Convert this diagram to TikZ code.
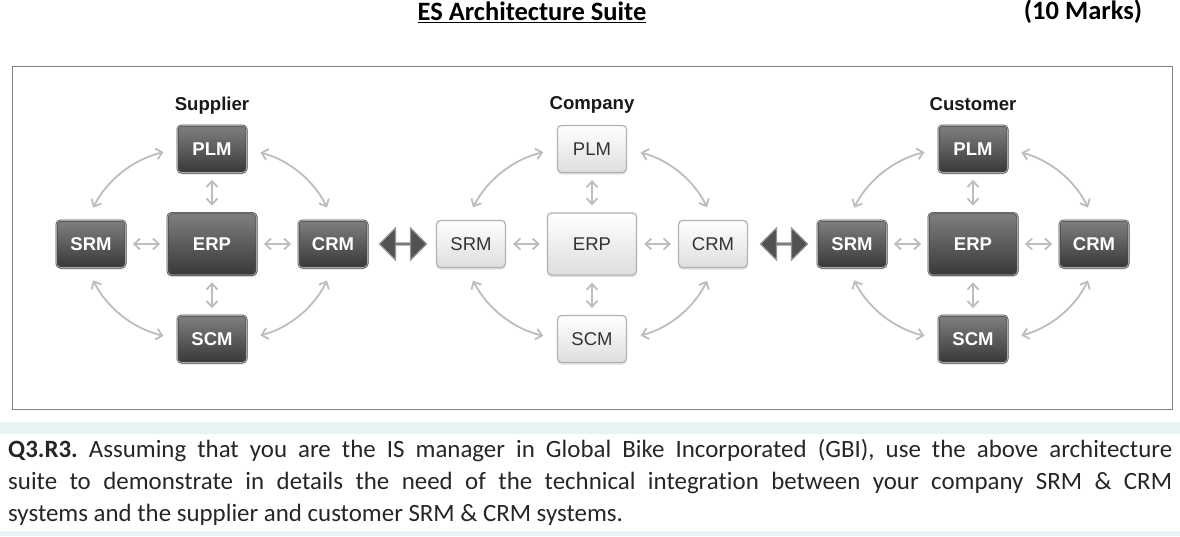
\documentclass[tikz,border=0pt]{standalone}
\usepackage{fontspec}
\setmainfont[Ligatures=NoCommon]{Carlito}
\newfontfamily\diagfont{Liberation Sans}
\usetikzlibrary{arrows.meta}
\usetikzlibrary{positioning}
\usetikzlibrary{shadows}
\usetikzlibrary{shapes.arrows}
\definecolor{bandcol}{HTML}{E7F3F4}
\definecolor{linkcol}{HTML}{BDBDBD}
\tikzset{
    link/.style = {linkcol,line width=1.8pt,{Straight Barb[length=6pt,width=11pt]}-{Straight Barb[length=6pt,width=11pt]}},
    curvelink/.style = {link,shorten <=14pt,shorten >=14pt},
    shortlink/.style = {link,shorten <=7pt,shorten >=7pt},
    box/.style = {rounded corners=4pt,minimum width=69pt,minimum height=47pt,
        drop shadow={shadow xshift=0pt,shadow yshift=-2pt,opacity=0.25}},
    darkbox/.style = {box,draw=black!72,double=black!35,double distance=0.8pt,line width=0.6pt,
        top color=black!50,bottom color=black!78,text=white},
    lightbox/.style = {box,draw=black!30,line width=1.2pt,top color=white,bottom color=black!13,text=black!80},
    swaparrow/.style = {double arrow,draw=black!42,fill=black!68,line width=1.2pt,inner sep=0pt,
        minimum width=32pt,minimum height=47pt,double arrow head extend=10pt},
    grouptitle/.style = {font=\diagfont\bfseries\fontsize{18.6}{22}\selectfont,text=black!90,text height=14pt,text depth=4pt,inner sep=0pt},
    band/.style = {fill=bandcol,draw=none}
}
\begin{document}
\begin{tikzpicture}[x=1pt,y=-1pt]
        \newcommand*\hsep{121}
        \newcommand*\vsep{95}
        \useasboundingbox (0,0) rectangle (1180,536);
        % Heading
        \node[font=\bfseries\fontsize{26.5}{30}\selectfont] (heading) at (532,12) {\underline{ES Architecture Suite}};
        \node[font=\bfseries\fontsize{26.5}{30}\selectfont] (marks) at (1083,12) {(10 Marks)};
        % Frame
        \draw[black!50,line width=0.8pt] (12,66) rectangle (1172,409);
        % Suites
        \foreach \g/\cx/\boxstyle/\wgt/\name in {
            s/212/darkbox/\bfseries/Supplier,
            c/592/lightbox/\mdseries/Company,
            k/973/darkbox/\bfseries/Customer}{
            \node[\boxstyle,font=\diagfont\wgt\fontsize{18.5}{22}\selectfont,minimum width=89pt,minimum height=62pt] (\g ERP) at (\cx,244) {ERP};
            \path (\g ERP)
                to +(0,-\vsep) node[\boxstyle,font=\diagfont\wgt\fontsize{18.5}{22}\selectfont] (\g PLM) {PLM}
                to +(0,\vsep) node[\boxstyle,font=\diagfont\wgt\fontsize{18.5}{22}\selectfont] (\g SCM) {SCM}
                to +(-\hsep,0) node[\boxstyle,font=\diagfont\wgt\fontsize{18.5}{22}\selectfont] (\g SRM) {SRM}
                to +(\hsep,0) node[\boxstyle,font=\diagfont\wgt\fontsize{18.5}{22}\selectfont] (\g CRM) {CRM}
            ;
            \node[grouptitle,above=11pt of \g PLM] (\g title) {\name};
            % Links to the ERP box
            \foreach \src/\dest in {PLM.south/ERP.north,ERP.south/SCM.north,SRM.east/ERP.west,ERP.east/CRM.west}
                \draw[shortlink] (\g\src) to (\g\dest);
            % Links round the ring
            \foreach \src/\dest/\side in {PLM.west/SRM.100/right,PLM.east/CRM.north/left,SCM.west/SRM.-100/left,SCM.east/CRM.south/right}
                \draw[curvelink] (\g\src) to[bend \side=25] (\g\dest);
        }
        % Between the suites
        \node[swaparrow] (left swap) at (403,244) {};
        \node[swaparrow] (right swap) at (784,244) {};
        % Question
        \fill[band] (0,422) rectangle (1180,434);
        \fill[band] (0,531) rectangle (1180,536);
        \node[anchor=north west,inner sep=0pt,text width=1164pt,align=justify,text=black!85,
            font=\frenchspacing\fontsize{24.9}{32}\selectfont] (question) at (8,439)
            {\textbf{Q3.R3.} Assuming that you are the IS manager in Global Bike Incorporated (GBI), use the above architecture\linebreak suite to demonstrate in details the need of the technical integration between your company SRM \& CRM\linebreak systems and the supplier and customer SRM \& CRM systems.};
    \end{tikzpicture}
\end{document}
